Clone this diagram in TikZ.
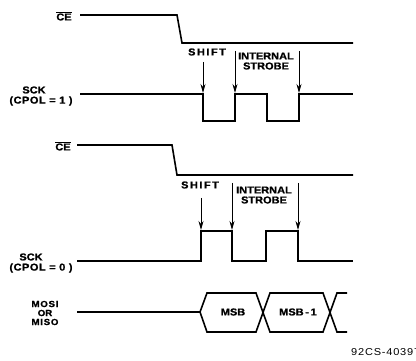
\documentclass[tikz,border=0pt]{standalone}
\usepackage{fontspec}
\setmainfont{Liberation Sans}
\newfontfamily\widefont[FakeStretch=1.1,FakeBold=1]{Liberation Sans}
\newfontfamily\plainwide[FakeStretch=1.1]{Liberation Sans}
\usetikzlibrary{arrows.meta}
\begin{document}
\begin{tikzpicture}[x=1pt,y=-1pt,
  wave/.style={line width=1.6pt, line join=miter},
  lbl/.style={font=\widefont\bfseries\fontsize{10}{11}\selectfont, inner sep=0pt, align=center},
  sml/.style={font=\widefont\bfseries\fontsize{8.8}{9}\selectfont, inner sep=0pt, align=center},
  arr/.style={line width=0.8pt, -{Stealth[length=9pt,width=5pt]}}]
\useasboundingbox (0,0) rectangle (416,361);

% ---------- CPOL = 1 ----------
\node[lbl] (ce1) at (64,16) {$\overline{\hbox{\widefont\bfseries\fontsize{10}{11}\selectfont CE}}$};
\draw[wave] (80,15) -- (177,15) -- (182,43) -- (353,43);
\node[lbl] (sck1) at (34,90) {SCK};
\node[lbl] (cpol1) at (41,101) {\addfontfeature{LetterSpace=5}(CPOL = 1 )};
\draw[wave] (80,94) -- (203,94) -- (203,121) -- (235,121) -- (235,94)
  -- (267,94) -- (267,121) -- (299,121) -- (299,94) -- (353,94);
\node[lbl] (sh1) at (207,52) {\addfontfeature{LetterSpace=15}SHIFT};
\coordinate (sh1t) at (203,62);
\coordinate (sh1e) at (203,93);
\draw[arr] (sh1t) -- (sh1e);
\node[lbl] (in1) at (266,56) {INTERNAL};
\node[lbl] (st1) at (266,66) {STROBE};
\coordinate (a1t) at (235,51); \coordinate (a1e) at (235,93);
\coordinate (b1t) at (299,51); \coordinate (b1e) at (299,93);
\draw[arr] (a1t) -- (a1e);
\draw[arr] (b1t) -- (b1e);

% ---------- CPOL = 0 ----------
\node[lbl] (ce2) at (63,146) {$\overline{\hbox{\widefont\bfseries\fontsize{10}{11}\selectfont CE}}$};
\draw[wave] (77,145) -- (172,145) -- (177,175) -- (353,175);
\node[lbl] (sck2) at (31,257) {SCK};
\node[lbl] (cpol0) at (41,268) {\addfontfeature{LetterSpace=5}(CPOL = 0 )};
\draw[wave] (77,261) -- (201,261) -- (201,231) -- (232,231) -- (232,261)
  -- (266,261) -- (266,231) -- (298,231) -- (298,261) -- (353,261);
\node[lbl] (sh2) at (200,185) {\addfontfeature{LetterSpace=15}SHIFT};
\coordinate (sh2t) at (201,198);
\coordinate (sh2e) at (201,230);
\draw[arr] (sh2t) -- (sh2e);
\node[lbl] (in2) at (264,190) {INTERNAL};
\node[lbl] (st2) at (264,200) {STROBE};
\coordinate (a2t) at (232,183); \coordinate (a2e) at (232,230);
\coordinate (b2t) at (298,183); \coordinate (b2e) at (298,230);
\draw[arr] (a2t) -- (a2e);
\draw[arr] (b2t) -- (b2e);

% ---------- MOSI / MISO ----------
\node[sml] (mosi) at (45,304) {\addfontfeature{LetterSpace=8}MOSI};
\node[sml] (or) at (45,313) {OR};
\node[sml] (miso) at (45,322) {\addfontfeature{LetterSpace=8}MISO};
\draw[wave] (77,312) -- (200,312) -- (207,293) -- (256,293) -- (270,332)
  -- (323,332) -- (337,293) -- (347,293);
\draw[wave] (200,312) -- (207,332) -- (256,332) -- (270,293)
  -- (323,293) -- (337,332) -- (347,332);
\node[lbl] (msb) at (233,312) {MSB};
\node[lbl] (msb1) at (298,312) {MSB\,-\,1};

\node[font=\plainwide\fontsize{10}{11}\selectfont\addfontfeature{LetterSpace=8}, inner sep=0pt, anchor=west] (code) at (351,352) {92CS-40397};
\end{tikzpicture}
\end{document}
